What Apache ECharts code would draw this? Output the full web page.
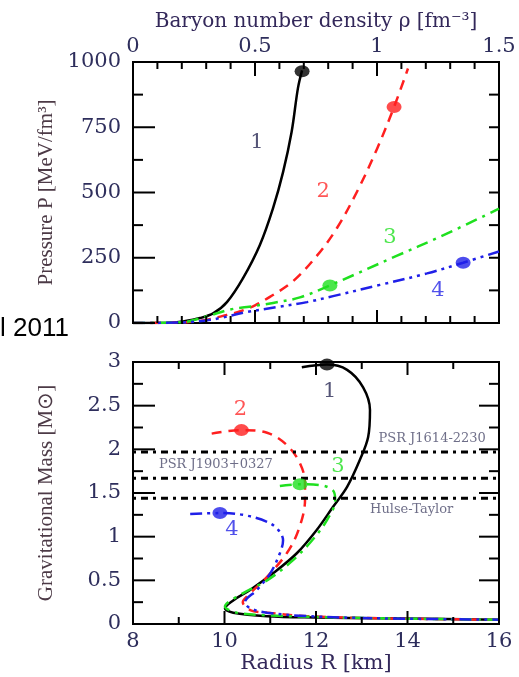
<!DOCTYPE html>
<html lang="en">
<head>
    <meta charset="UTF-8">
    <title>EoS and mass-radius</title>
    <script src="https://cdn.jsdelivr.net/npm/echarts@6/dist/echarts.min.js"></script>
    <style>
        body { margin: 0; background: #fff; }
    </style>
</head>
<body>
<div id="main" style="width: 519px; height: 677px;"></div>
<script>
    // ---- top panel: pressure vs baryon density [rho, P] ----
    var eos1 = [[0, 0], [0.15, 0.5], [0.205, 6], [0.275, 19], [0.33, 38], [0.385, 80], [0.451, 172], [0.52, 299],
        [0.574, 440], [0.615, 578], [0.65, 732], [0.676, 900], [0.693, 968]];
    var eos2 = [[0, 0], [0.2, 2], [0.3, 12], [0.385, 31], [0.44, 45], [0.5, 68], [0.561, 100], [0.656, 160],
        [0.754, 258], [0.836, 364], [0.918, 503], [1.0, 667], [1.07, 828], [1.127, 975]];
    var eos3 = [[0, 0], [0.2, 3], [0.3, 25], [0.4, 52], [0.467, 61], [0.574, 77], [0.684, 98], [0.807, 144],
        [1.08, 257], [1.258, 330], [1.5, 438]];
    var eos4 = [[0, 0], [0.2, 2], [0.3, 10], [0.357, 19], [0.467, 42], [0.59, 61], [0.713, 80], [0.82, 103],
        [1.012, 146], [1.205, 190], [1.353, 231], [1.5, 274]];
    var eosDots = [[0.693, 965], [1.07, 828], [0.807, 144], [1.353, 231]];
    var eosLabels = [[0.508, 693], [0.779, 502], [1.053, 326], [1.25, 126]];

    // ---- bottom panel: mass vs radius [R, M] ----
    var mr1 = [[11.69, 2.94], [12.24, 2.97], [12.68, 2.91], [13.03, 2.71], [13.18, 2.45], [13.14, 2.14],
        [12.96, 1.88], [12.68, 1.57], [12.37, 1.34], [12.02, 1.08], [11.58, 0.81], [11.06, 0.58], [10.56, 0.39],
        [10.19, 0.27], [10.01, 0.18], [10.19, 0.13], [10.93, 0.09], [12.02, 0.075], [13.4, 0.065], [16, 0.05]];
    var mr2 = [[9.72, 2.18], [10.37, 2.22], [10.93, 2.19], [11.36, 2.05], [11.65, 1.84], [11.76, 1.61],
        [11.76, 1.42], [11.62, 1.08], [11.36, 0.81], [10.93, 0.54], [10.56, 0.35], [10.4, 0.25], [10.56, 0.16],
        [10.93, 0.13], [11.8, 0.09], [13.4, 0.065], [16, 0.05]];
    var mr3 = [[11.21, 1.58], [11.65, 1.6], [12.09, 1.59], [12.37, 1.53], [12.42, 1.42], [12.24, 1.19],
        [11.87, 0.93], [11.43, 0.7], [10.93, 0.5], [10.4, 0.35], [10.01, 0.2], [10.27, 0.13], [10.93, 0.1],
        [12.02, 0.08], [13.4, 0.065], [16, 0.05]];
    var mr4 = [[9.25, 1.26], [9.9, 1.27], [10.4, 1.25], [10.93, 1.17], [11.17, 1.08], [11.28, 0.96],
        [11.21, 0.81], [11.0, 0.58], [10.71, 0.39], [10.45, 0.25], [10.56, 0.18], [10.93, 0.13], [11.8, 0.09],
        [13.4, 0.065], [16, 0.05]];
    var mrDots = [[12.24, 2.97], [10.37, 2.22], [11.65, 1.6], [9.9, 1.27]];
    var mrLabels = [[12.3, 2.66], [10.35, 2.45], [12.48, 1.8], [10.16, 1.08]];

    // pulsar masses
    var psrMass = [1.97, 1.67, 1.44];
    var psrNames = ['PSR J1614-2230', 'PSR J1903+0327', 'Hulse-Taylor'];
    var psrNamePos = [[14.54, 2.12], [9.81, 1.82], [14.09, 1.31]];

    // tick positions (major + minor)
    var rhoTicks = [0, 0.1, 0.2, 0.3, 0.4, 0.5, 0.6, 0.7, 0.8, 0.9, 1.0, 1.1, 1.2, 1.3, 1.4, 1.5];
    var pTicks = [0, 125, 250, 375, 500, 625, 750, 875, 1000];
    var rTicks = [8, 9, 10, 11, 12, 13, 14, 15, 16];
    var mTicks = [0, 0.25, 0.5, 0.75, 1, 1.25, 1.5, 1.75, 2, 2.25, 2.5, 2.75, 3];

    var curveNames = ['1', '2', '3', '4'];
    var colors = ['#000000', '#ff1f1f', '#1fe01f', '#1f1fe8'];
    var labelColors = ['#2a2a55', '#ff2a2a', '#22e022', '#2626e6'];
    var dashes = ['solid', [10, 7], [12, 6, 3, 6], [12, 5, 3, 5, 3, 5]];

    var serif = 'DejaVu Serif';
    var tickColor = '#2e2e5c';
    var nameColor = '#4c3a46';

    var myChart = echarts.init(document.getElementById('main'));

    function valueAxis(grid, pos, min, max, interval, margin) {
        return {
            type: 'value', gridIndex: grid, position: pos,
            min: min, max: max, interval: interval,
            axisLine: { show: false, onZero: false },
            axisTick: { show: false },
            splitLine: { show: false },
            axisLabel: {
                color: tickColor, fontFamily: serif, fontSize: 21, margin: margin,
                formatter: function (v) { return String(v); }
            }
        };
    }

    var xTop = valueAxis(0, 'top', 0, 1.5, 0.5, 5);
    xTop.name = 'Baryon number density ρ [fm⁻³]';
    xTop.nameLocation = 'middle';
    xTop.nameGap = 30;
    xTop.nameTextStyle = { color: '#33285a', fontFamily: serif, fontSize: 20 };

    var yTop = valueAxis(0, 'left', 0, 1000, 250, 12);
    yTop.name = 'Pressure P [MeV/fm³]';
    yTop.nameLocation = 'middle';
    yTop.nameGap = 76;
    yTop.nameTextStyle = { color: nameColor, fontFamily: 'Liberation Serif', fontSize: 21 };

    var xBot = valueAxis(1, 'bottom', 8, 16, 2, 7);
    xBot.name = 'Radius R [km]';
    xBot.nameLocation = 'middle';
    xBot.nameGap = 28;
    xBot.nameTextStyle = { color: '#33285a', fontFamily: serif, fontSize: 21 };

    var yBot = valueAxis(1, 'left', 0, 3, 0.5, 12);
    yBot.name = 'Gravitational Mass [M⊙]';
    yBot.nameLocation = 'middle';
    yBot.nameGap = 76;
    yBot.nameTextStyle = { color: nameColor, fontFamily: 'Liberation Serif', fontSize: 21 };

    var series = [];

    function addCurves(xi, curves, dots, labels) {
        curves.forEach(function (data, i) {
            series.push({
                type: 'line', xAxisIndex: xi, yAxisIndex: xi, data: data,
                smooth: 0.35, showSymbol: false, z: 2 + i,
                lineStyle: { color: colors[i], width: 2.5, type: dashes[i] }
            });
        });
        series.push({
            type: 'scatter', xAxisIndex: xi, yAxisIndex: xi, z: 10,
            data: dots.map(function (d, i) {
                return { value: d, itemStyle: { color: colors[i] } };
            }),
            symbolSize: [15, 12]
        });
        series.push({
            type: 'scatter', xAxisIndex: xi, yAxisIndex: xi, z: 10,
            symbolSize: 0.1, itemStyle: { color: 'transparent' },
            data: labels.map(function (d, i) {
                return {
                    value: d, name: curveNames[i],
                    label: { show: true, position: 'inside', formatter: '{b}', color: labelColors[i], fontFamily: serif, fontSize: 21 }
                };
            })
        });
    }

    // low-mass branches: black first, then red, blue, green on top
    addCurves(0, [eos1, eos2, eos3, eos4], eosDots, eosLabels);
    addCurves(1, [mr1, mr2, mr3, mr4], mrDots, mrLabels);

    psrMass.forEach(function (m) {
        series.push({
            type: 'line', xAxisIndex: 1, yAxisIndex: 1, showSymbol: false, z: 8,
            data: [[8, m], [16, m]],
            lineStyle: { color: '#000', width: 3, type: [3, 5, 7, 5] }
        });
    });
    series.push({
        type: 'scatter', xAxisIndex: 1, yAxisIndex: 1, z: 10,
        symbolSize: 0.1, itemStyle: { color: 'transparent' },
        data: psrNamePos.map(function (d, i) {
            return {
                value: d, name: psrNames[i],
                label: { show: true, position: 'inside', formatter: '{b}', color: '#4a4a6a', fontFamily: serif, fontSize: 13 }
            };
        })
    });

    var yearText = {
        type: 'text', left: 0, top: 316,
        style: { text: 'l 2011', fill: '#000', font: '26px "Liberation Sans"' }
    };

    var option = {
        animation: false,
        grid: [
            { left: 133, top: 62, width: 366, height: 261, show: true, borderColor: '#000', borderWidth: 2, backgroundColor: 'transparent' },
            { left: 133, top: 362, width: 366, height: 262, show: true, borderColor: '#000', borderWidth: 2, backgroundColor: 'transparent' }
        ],
        xAxis: [xTop, xBot],
        yAxis: [yTop, yBot],
        graphic: [yearText],
        series: series
    };
    myChart.setOption(option);

    // ---- inward frame ticks, placed with the axes' own convertToPixel ----
    function isMajor(v, step) {
        var q = v / step;
        return Math.abs(q - Math.round(q)) < 1e-6;
    }

    var tickEls = [];
    function seg(x1, y1, x2, y2) {
        tickEls.push({
            type: 'line', z: 100, silent: true,
            shape: { x1: x1, y1: y1, x2: x2, y2: y2 },
            style: { stroke: '#000', lineWidth: 2 }
        });
    }

    // L = [bottomMajor, bottomMinor, topMajor, topMinor, leftMajor, leftMinor, rightMajor, rightMinor]
    function addTicks(gi, xr, xTicks, xStep, yr, yTicks, yStep, L) {
        xTicks.forEach(function (v) {
            var m = isMajor(v, xStep);
            var b = myChart.convertToPixel({ gridIndex: gi }, [v, yr[0]]);
            var t = myChart.convertToPixel({ gridIndex: gi }, [v, yr[1]]);
            seg(b[0], b[1], b[0], b[1] - (m ? L[0] : L[1]));
            seg(t[0], t[1], t[0], t[1] + (m ? L[2] : L[3]));
        });
        yTicks.forEach(function (v) {
            var m = isMajor(v, yStep);
            var l = myChart.convertToPixel({ gridIndex: gi }, [xr[0], v]);
            var r = myChart.convertToPixel({ gridIndex: gi }, [xr[1], v]);
            seg(l[0], l[1], l[0] + (m ? L[4] : L[5]), l[1]);
            seg(r[0], r[1], r[0] - (m ? L[6] : L[7]), r[1]);
        });
    }

    addTicks(0, [0, 1.5], rhoTicks, 0.5, [0, 1000], pTicks, 250, [13, 7, 14, 7, 22, 10, 10, 10]);
    addTicks(1, [8, 16], rTicks, 2, [0, 3], mTicks, 0.5, [13, 7, 13, 7, 22, 10, 20, 10]);

    myChart.setOption({ graphic: [yearText].concat(tickEls) });
</script>
</body>
</html>
